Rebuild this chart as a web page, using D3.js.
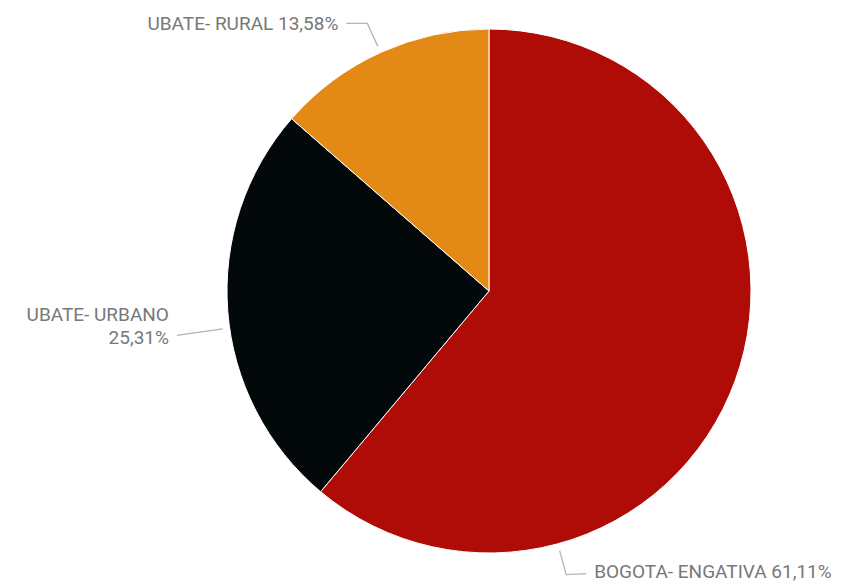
<!DOCTYPE html>
<html>
<head>
<meta charset="utf-8">
<script src="https://cdn.jsdelivr.net/npm/d3@7"></script>
<style>
  html, body { margin: 0; padding: 0; background: #ffffff; }
  svg text { font-family: Roboto, "Noto Sans", sans-serif; fill: #787878; }
</style>
</head>
<body>
<svg id="chart" width="843" height="584"></svg>
<script>
// Share of records by location (percent)
const categories = ["BOGOTA- ENGATIVA", "UBATE- URBANO", "UBATE- RURAL"];
const shares = [61.11, 25.31, 13.58];
const shareLabels = ["61,11%", "25,31%", "13,58%"];
const colors = ["#b00c07", "#03090b", "#e38a16"];

const width = 843, height = 584;
const cx = 489, cy = 291, radius = 262;

const svg = d3.select("#chart");
const g = svg.append("g").attr("transform", `translate(${cx},${cy})`);

const data = categories.map((c, i) => ({ name: c, value: shares[i], label: shareLabels[i], color: colors[i] }));

const pie = d3.pie().sort(null).value(d => d.value);
const arcs = pie(data);
const arc = d3.arc().innerRadius(0).outerRadius(radius);

g.selectAll("path.slice")
  .data(arcs)
  .join("path")
  .attr("class", "slice")
  .attr("d", arc)
  .attr("fill", d => d.data.color)
  .attr("stroke", "#ffffff")
  .attr("stroke-width", 1);

// Callout placement per slice: where along the slice the leader starts (0..1),
// horizontal run, vertical drift of the run, text side, first-line offset and line spacing
const callouts = [
  { along: 0.749, run: 20, drift: -1, side: "right", firstDy: -2,    lh: 23,   lines: d => [d.data.name + " " + d.data.label] },
  { along: 0.46,  run: 21, drift: 3,  side: "left",  firstDy: -21.5, lh: 23.5, lines: d => [d.data.name, d.data.label] },
  { along: 0.5,   run: 21, drift: 0,  side: "left",  firstDy: 0,     lh: 23,   lines: d => [d.data.name + " " + d.data.label] }
];

const polar = (a, r) => [r * Math.sin(a), -r * Math.cos(a)];

arcs.forEach((d, i) => {
  const c = callouts[i];
  const a = d.startAngle + (d.endAngle - d.startAngle) * c.along;
  const p0 = polar(a, radius + 7);
  const p1 = polar(a, radius + 32);
  const dir = c.side === "right" ? 1 : -1;
  const p2 = [p1[0] + dir * c.run, p1[1] + c.drift];

  g.append("polyline")
    .attr("points", [p0, p1, p2].map(p => p.join(",")).join(" "))
    .attr("fill", "none")
    .attr("stroke", "#b4b4b4")
    .attr("stroke-width", 1.3);

  const lines = c.lines(d);
  const tx = p2[0] + dir * 8;
  const y0 = p2[1] + c.firstDy;
  const t = g.append("text")
    .attr("text-anchor", c.side === "right" ? "start" : "end")
    .style("font-size", "19px");
  lines.forEach((ln, k) => {
    t.append("tspan").attr("x", tx).attr("y", y0 + k * c.lh).attr("dy", "0.35em").text(ln);
  });
});
</script>
</body>
</html>
